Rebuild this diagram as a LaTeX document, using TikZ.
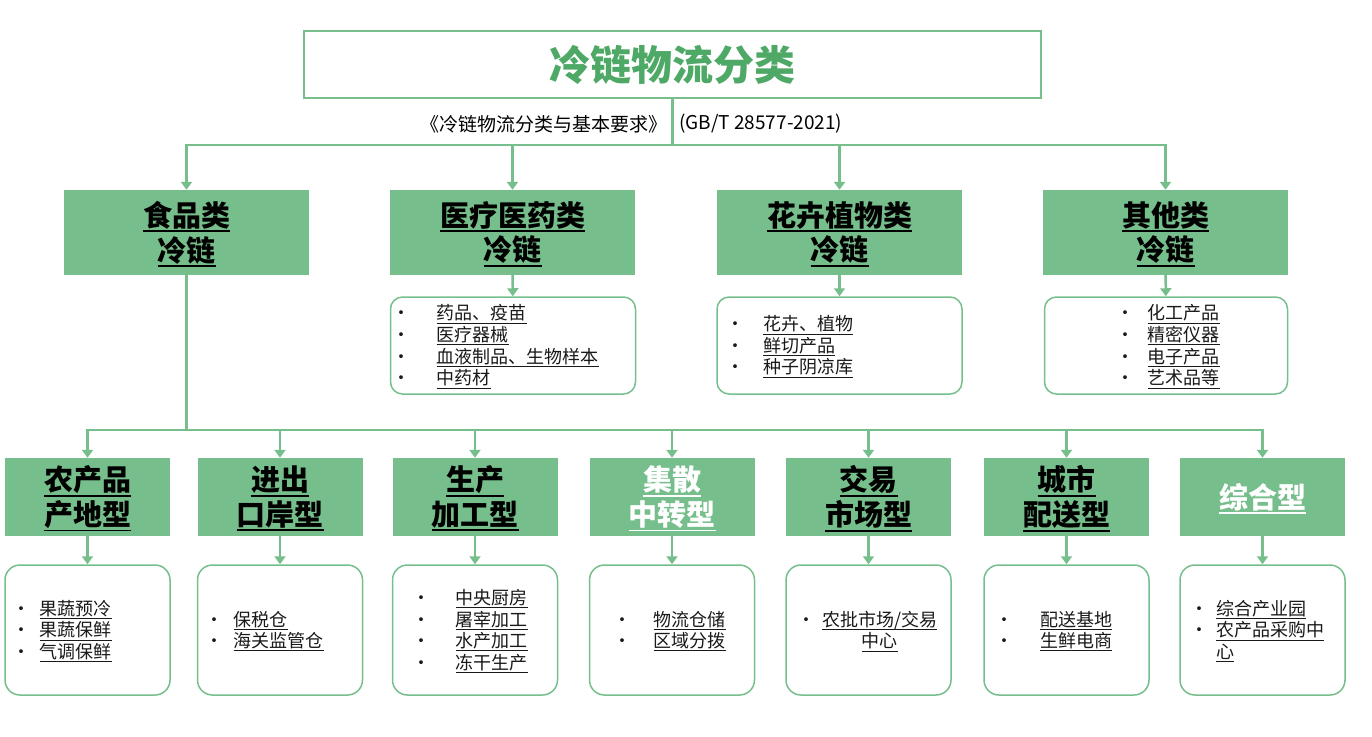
\documentclass[tikz,border=0pt]{standalone}
\usepackage{fontspec}
\setmainfont{Noto Sans CJK SC}
\usetikzlibrary{arrows.meta}
\definecolor{cgreen}{RGB}{118,190,139}
\definecolor{tgreen}{RGB}{78,168,102}
\definecolor{itemgray}{RGB}{25,25,25}
\newcommand{\ulin}[3]{\setbox0=\hbox{#3}\rlap{\rule[-#1]{\wd0}{#2}}\box0}
\newcommand{\hul}[1]{\ulin{6pt}{1.8pt}{#1}}
\newcommand{\iul}[1]{\ulin{3.8pt}{1pt}{#1}}
\newcommand{\bul}{\makebox[0pt]{\textbullet}}
\newcommand{\low}[2]{\raisebox{-#1}[\height][\depth]{#2}}
\newcommand{\hd}[1]{\low{3.5pt}{\begin{tabular}{@{}c@{}}#1\end{tabular}}}
\newcommand{\lst}[5][l]{\low{2.5pt}{\makebox[#2][l]{\begin{tabular}{@{\hspace*{#3}}c@{\hspace*{#4}}#1@{}}#5\end{tabular}}}}
\tikzset{
  titlebox/.style={draw=cgreen, line width=2.5pt, minimum width=737pt, minimum height=67pt, inner sep=0pt, text=tgreen, font=\fontsize{41}{48}\selectfont\bfseries},
  catbox/.style={fill=cgreen, inner sep=0pt, font=\fontsize{29}{33}\selectfont\bfseries},
  bigcat/.style={catbox, minimum width=245pt, minimum height=85pt},
  smallcat/.style={catbox, minimum width=165pt, minimum height=78pt},
  listbox/.style={draw=cgreen, line width=1.5pt, inner sep=0pt, text=itemgray, font=\fontsize{18}{21.5}\selectfont},
  biglist/.style={listbox, rounded corners=12pt, minimum height=97pt},
  smalllist/.style={listbox, rounded corners=15pt, minimum height=130pt},
  conn/.style={draw=cgreen, line width=2.5pt},
  arr/.style={conn, -{Triangle[length=8pt,width=11pt]}}
}
\begin{document}
\begin{tikzpicture}[x=1pt,y=-1pt]
  \useasboundingbox (0,0) rectangle (1372,736);
  \node[titlebox] (title) at (672.5,64.5) {冷链物流分类};
  \node[anchor=east, inner sep=0pt, font=\fontsize{19}{22}\selectfont] (std1) at (668,124) {《冷链物流分类与基本要求》};
  \node[anchor=west, inner sep=0pt, font=\fontsize{19}{22}\selectfont] (std2) at (679,124) {(GB/T 28577-2021)};
  \coordinate (top) at (672.5,145);

  \node[bigcat] (food) at (186.5,232.5) {\hd{\hul{食品类}\\\hul{冷链}}};
  \node[bigcat] (med) at (512.5,232.5) {\hd{\hul{医疗医药类}\\\hul{冷链}}};
  \node[bigcat] (flower) at (839.5,232.5) {\hd{\hul{花卉植物类}\\\hul{冷链}}};
  \node[bigcat] (other) at (1165.5,232.5) {\hd{\hul{其他类}\\\hul{冷链}}};

  \node[biglist] (medlist) at (513,345.5) {\lst{245pt}{11pt}{35pt}{\bul & \iul{药品、疫苗}\\ \bul & \iul{医疗器械}\\ \bul & \iul{血液制品、生物样本}\\ \bul & \iul{中药材}}};
  \node[biglist] (flowerlist) at (839.5,345.5) {\lst{245pt}{18pt}{28pt}{\bul & \iul{花卉、植物}\\ \bul & \iul{鲜切产品}\\ \bul & \iul{种子阴凉库}}};
  \node[biglist] (otherlist) at (1166,345.5) {\lst{243pt}{81pt}{22pt}{\bul & \iul{化工产品}\\ \bul & \iul{精密仪器}\\ \bul & \iul{电子产品}\\ \bul & \iul{艺术品等}}};

  \coordinate (mid) at (186.5,430);
  \node[smallcat] (farm) at (87.5,497) {\hd{\hul{农产品}\\\hul{产地型}}};
  \node[smallcat] (port) at (280,497) {\hd{\hul{进出}\\\hul{口岸型}}};
  \node[smallcat] (prod) at (475,497) {\hd{\hul{生产}\\\hul{加工型}}};
  \node[smallcat, text=white] (hub) at (672,497) {\hd{\hul{集散}\\\hul{中转型}}};
  \node[smallcat] (market) at (868.5,497) {\hd{\hul{交易}\\\hul{市场型}}};
  \node[smallcat] (city) at (1066.5,497) {\hd{\hul{城市}\\\hul{配送型}}};
  \node[smallcat, text=white] (mix) at (1262.5,497) {\hd{\hul{综合型}}};

  \node[smalllist] (farmlist) at (87.5,630) {\lst{165pt}{17pt}{18pt}{\bul & \iul{果蔬预冷}\\ \bul & \iul{果蔬保鲜}\\ \bul & \iul{气调保鲜}}};
  \node[smalllist] (portlist) at (280,630) {\lst{165pt}{17pt}{19pt}{\bul & \iul{保税仓}\\ \bul & \iul{海关监管仓}}};
  \node[smalllist] (prodlist) at (475,630) {\lst{165pt}{29pt}{34pt}{\bul & \iul{中央厨房}\\ \bul & \iul{屠宰加工}\\ \bul & \iul{水产加工}\\ \bul & \iul{冻干生产}}};
  \node[smalllist] (hublist) at (672,630) {\lst{165pt}{33pt}{31pt}{\bul & \iul{物流仓储}\\ \bul & \iul{区域分拨}}};
  \node[smalllist] (marketlist) at (868.5,630) {\lst[c]{165pt}{20pt}{16pt}{\bul & \iul{农批市场/交易}\\ & \iul{中心}}};
  \node[smalllist] (citylist) at (1066.5,630) {\lst{165pt}{20pt}{36pt}{\bul & \iul{配送基地}\\ \bul & \iul{生鲜电商}}};
  \node[smalllist] (mixlist) at (1262.5,630) {\lst{165pt}{19pt}{17pt}{\bul & \iul{综合产业园}\\ \bul & \iul{农产品采购中}\\ & \iul{心}}};

  \draw[conn] (title.south) -- (top);
  \foreach \n in {food,med,flower,other}
    \draw[arr] (top) -| (\n.north);
  \draw[arr] (med) -- (medlist);
  \draw[arr] (flower) -- (flowerlist);
  \draw[arr] (other) -- (otherlist);
  \draw[conn] (food.south) -- (mid);
  \foreach \n in {farm,port,prod,hub,market,city,mix}
    \draw[arr] (mid) -| (\n.north);
  \foreach \n in {farm,port,prod,hub,market,city,mix}
    \draw[arr] (\n) -- (\n list);
\end{tikzpicture}
\end{document}
